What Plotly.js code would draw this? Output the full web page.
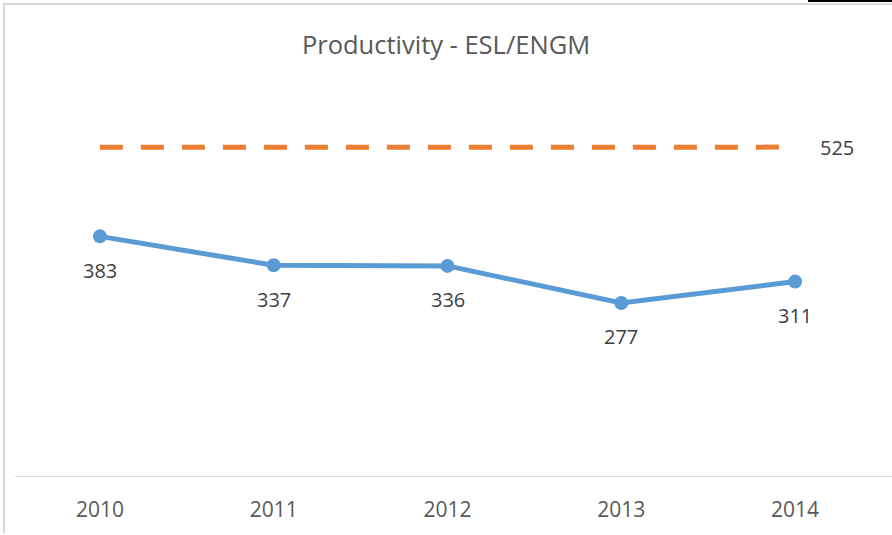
<!DOCTYPE html>
<html>
<head>
<meta charset="utf-8">
<script src="https://cdn.plot.ly/plotly-3.0.1.min.js"></script>
<style>
html,body{margin:0;padding:0;background:#fff;}
#wrap{position:relative;width:892px;height:535px;overflow:hidden;}
#chart{position:absolute;left:0;top:0;width:892px;height:535px;}
#bl{position:absolute;left:3px;top:3px;width:2px;height:530px;background:#d9d9d9;}
#bt{position:absolute;left:3px;top:3px;width:889px;height:2px;background:#d9d9d9;}
#bk{position:absolute;left:808px;top:0px;width:84px;height:2px;background:#000;}
</style>
</head>
<body>
<div id="wrap">
<div id="chart"></div>
<div id="bl"></div><div id="bt"></div><div id="bk"></div>
</div>
<script>
const years = ['2010', '2011', '2012', '2013', '2014'];
const productivity = [383, 337, 336, 277, 311];
const target = [525, 525, 525, 525, 525];

const traces = [
  {
    x: years, y: target, type: 'scatter', mode: 'lines',
    line: {color: '#ED7D31', width: 5, dash: '23px,18px'},
    cliponaxis: false, hoverinfo: 'skip'
  },
  {
    x: years, y: productivity, type: 'scatter', mode: 'lines+markers',
    line: {color: '#5B9BD5', width: 5},
    marker: {color: '#5B9BD5', size: 14},
    cliponaxis: false
  }
];

const labelFont = {family: 'Open Sans', size: 20, color: '#404040'};
const annotations = years.map((yr, i) => ({
  x: i, y: productivity[i], xref: 'x', yref: 'y',
  text: String(productivity[i]), showarrow: false,
  xanchor: 'center', yanchor: 'middle',
  yshift: -34, font: labelFont
}));
const last = years.length - 1;
annotations.push({
  x: last, y: target[last], xref: 'x', yref: 'y',
  text: String(target[last]), showarrow: false,
  xanchor: 'left', yanchor: 'middle', xshift: 23, yshift: 0, font: labelFont
});

const layout = {
  width: 892, height: 535,
  margin: {l: 13, r: 10, t: 100, b: 58},
  paper_bgcolor: '#fff', plot_bgcolor: '#fff',
  showlegend: false,
  title: {
    text: 'Productivity - ESL/ENGM',
    font: {family: 'Open Sans', size: 25.5, color: '#595959'},
    x: 0.5, xanchor: 'center', y: 1 - 45/535, yanchor: 'middle', yref: 'container'
  },
  xaxis: {
    type: 'category', range: [-0.5, 4.5],
    showgrid: false, zeroline: false,
    showline: false, ticks: '',
    tickfont: {family: 'Open Sans', size: 21, color: '#595959'},
    ticklabelstandoff: 18
  },
  yaxis: {
    range: [0, 600], visible: true, showticklabels: false, showgrid: false,
    zeroline: false, showline: false, ticks: '', fixedrange: true
  },
  shapes: [{
    type: 'line', xref: 'paper', yref: 'y', x0: 2/869, x1: 879/869, y0: 0, y1: 0,
    line: {color: '#d9d9d9', width: 2}
  }],
  annotations: annotations
};

Plotly.newPlot('chart', traces, layout, {displayModeBar: false, staticPlot: true});
</script>
</body>
</html>
